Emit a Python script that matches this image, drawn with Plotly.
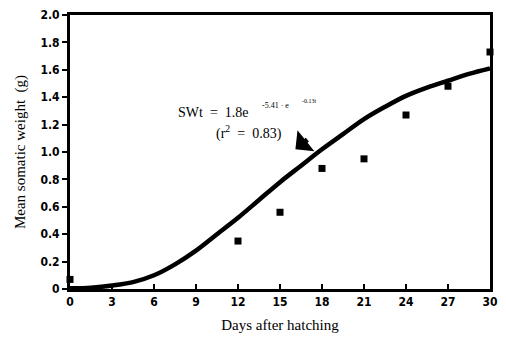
import plotly.graph_objects as go

# Observed mean somatic weight by day
days = [0, 12, 15, 18, 21, 24, 27, 30]
weight = [0.07, 0.35, 0.56, 0.88, 0.95, 1.27, 1.48, 1.73]

# Fitted growth curve
fit_days = [0, 1.5, 3, 4.5, 6, 7.5, 9, 10.5, 12, 13.5, 15, 16.5, 18,
            19.5, 21, 22.5, 24, 25.5, 27, 28.5, 30]
fit_weight = [0.005, 0.01, 0.025, 0.05, 0.10, 0.18, 0.28, 0.40, 0.52, 0.65,
              0.78, 0.90, 1.02, 1.13, 1.24, 1.33, 1.41, 1.47, 1.52, 1.57, 1.61]

x_ticks = [0, 3, 6, 9, 12, 15, 18, 21, 24, 27, 30]
y_ticks = [0, 0.2, 0.4, 0.6, 0.8, 1.0, 1.2, 1.4, 1.6, 1.8, 2.0]
y_tick_text = ["0", "0.2", "0.4", "0.6", "0.8", "1.0", "1.2", "1.4", "1.6", "1.8", "2.0"]

serif = "Liberation Serif, Times New Roman, serif"
tick_font = dict(family="Liberation Sans Narrow, DejaVu Sans Condensed, Arial", size=12,
                 color="black", weight="bold")

fig = go.Figure()
fig.add_trace(go.Scatter(x=fit_days, y=fit_weight, mode="lines",
                         line=dict(color="black", width=4.5, shape="spline"),
                         hoverinfo="skip", showlegend=False))
fig.add_trace(go.Scatter(x=days, y=weight, mode="markers",
                         marker=dict(symbol="square", size=7, color="black"),
                         cliponaxis=False, showlegend=False))

# Equation label
fig.add_annotation(x=7.6, y=1.29, xref="x", yref="y", text="SWt  =  1.8e",
                   showarrow=False, xanchor="left", yanchor="middle",
                   font=dict(family=serif, size=14, color="black"))
fig.add_annotation(x=13.6, y=1.34, xref="x", yref="y", text="-5.41 · e",
                   showarrow=False, xanchor="left", yanchor="middle",
                   font=dict(family=serif, size=8, color="black"))
fig.add_annotation(x=16.4, y=1.37, xref="x", yref="y", text="-0.13t",
                   showarrow=False, xanchor="left", yanchor="middle",
                   font=dict(family=serif, size=6, color="black"))
fig.add_annotation(x=10.3, y=1.14, xref="x", yref="y", text="(r<sup>2</sup>  =  0.83)",
                   showarrow=False, xanchor="left", yanchor="middle",
                   font=dict(family=serif, size=14, color="black"))
# Arrow pointing at the fitted curve
fig.add_annotation(x=16.1, y=1.02, xref="x", yref="y", ax=15, ay=-12,
                   text=" ", showarrow=True, arrowhead=1, arrowsize=0.9,
                   arrowwidth=5, arrowcolor="black", standoff=0,
                   axref="pixel", ayref="pixel")

fig.update_xaxes(range=[0, 30], tickmode="array", tickvals=x_ticks,
                 ticks="inside", ticklen=5, tickwidth=1.5, tickcolor="black",
                 showline=True, linewidth=3, linecolor="black", mirror=True,
                 showgrid=False, zeroline=False, tickfont=tick_font,
                 title=dict(text="Days after hatching",
                            font=dict(family=serif, size=15, color="black"),
                            standoff=12))
fig.update_yaxes(range=[0, 2.0], tickmode="array", tickvals=y_ticks,
                 ticktext=y_tick_text,
                 ticks="outside", ticklen=5, tickwidth=1.5, tickcolor="black",
                 showline=True, linewidth=3, linecolor="black", mirror=True,
                 showgrid=False, zeroline=False, tickfont=tick_font,
                 title=dict(text="Mean somatic weight  (g)",
                            font=dict(family=serif, size=15, color="black"),
                            standoff=12))

fig.update_layout(width=506, height=340,
                  margin=dict(l=70, r=9, t=8, b=45),
                  paper_bgcolor="white", plot_bgcolor="white")

fig.write_html("out.html")
